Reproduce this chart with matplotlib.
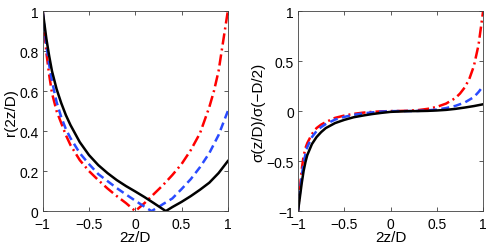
import matplotlib
matplotlib.use("Agg")
import matplotlib.pyplot as plt

plt.rcParams['font.family'] = ['Liberation Sans', 'DejaVu Sans']

# ---- left panel: r(2z/D) ----
x_r_black = [-1.0, -0.98, -0.96, -0.93, -0.9, -0.85, -0.8, -0.75, -0.7, -0.6, -0.5, -0.4, -0.3, -0.2,
             -0.1, 0.0, 0.1, 0.2, 0.33, 0.4, 0.5, 0.6, 0.7, 0.8, 0.9, 1.0]
r_black = [1.0, 0.93, 0.86, 0.775, 0.70, 0.61, 0.54, 0.48, 0.43, 0.345, 0.28, 0.23, 0.19, 0.155,
           0.125, 0.098, 0.07, 0.04, 0.0, 0.02, 0.046, 0.075, 0.107, 0.142, 0.19, 0.25]

x_r_blue = [-1.0, -0.98, -0.96, -0.93, -0.9, -0.85, -0.8, -0.75, -0.7, -0.6, -0.5, -0.4, -0.3, -0.2,
            -0.1, 0.0, 0.1, 0.175, 0.25, 0.3, 0.4, 0.5, 0.6, 0.7, 0.8, 0.9, 1.0]
r_blue = [1.0, 0.91, 0.83, 0.73, 0.65, 0.545, 0.47, 0.41, 0.365, 0.29, 0.235, 0.185, 0.15, 0.115,
          0.083, 0.052, 0.022, 0.0, 0.02, 0.035, 0.063, 0.11, 0.16, 0.22, 0.29, 0.38, 0.5]

x_r_red = [-1.0, -0.98, -0.96, -0.93, -0.9, -0.85, -0.8, -0.75, -0.7, -0.6, -0.5, -0.4, -0.3, -0.2,
           -0.1, 0.0, 0.1, 0.2, 0.3, 0.4, 0.5, 0.6, 0.7, 0.8, 0.85, 0.9, 0.95, 1.0]
r_red = [1.0, 0.89, 0.79, 0.68, 0.59, 0.5, 0.44, 0.38, 0.33, 0.255, 0.2, 0.155, 0.113, 0.075,
         0.04, 0.0, 0.04, 0.085, 0.13, 0.18, 0.235, 0.305, 0.39, 0.52, 0.6, 0.70, 0.85, 1.0]

# ---- right panel: sigma(z/D)/sigma(-D/2) ----
x_s_black = [-1.0, -0.98, -0.96, -0.94, -0.92, -0.9, -0.85, -0.8, -0.75, -0.7, -0.6, -0.5, -0.4,
             -0.3, -0.2, -0.1, 0.0, 0.1, 0.2, 0.3, 0.4, 0.5, 0.6, 0.7, 0.8, 0.9, 1.0]
s_black = [-1.0, -0.86, -0.72, -0.6, -0.51, -0.44, -0.33, -0.26, -0.21, -0.17, -0.12, -0.088, -0.062,
           -0.045, -0.03, -0.018, -0.008, -0.004, -0.001, 0.0, 0.002, 0.006, 0.012, 0.022, 0.035,
           0.05, 0.068]

x_s_blue = [-1.0, -0.98, -0.96, -0.94, -0.92, -0.9, -0.85, -0.8, -0.75, -0.7, -0.6, -0.5, -0.4, -0.3,
            -0.2, -0.1, 0.0, 0.1, 0.2, 0.3, 0.4, 0.5, 0.6, 0.7, 0.8, 0.9, 0.95, 1.0]
s_blue = [-1.0, -0.82, -0.65, -0.52, -0.43, -0.36, -0.26, -0.2, -0.16, -0.13, -0.085, -0.058, -0.038,
          -0.024, -0.013, -0.005, -0.001, 0.0, 0.0, 0.002, 0.007, 0.015, 0.03, 0.052, 0.085, 0.14,
          0.19, 0.25]

x_s_red = [-1.0, -0.98, -0.96, -0.94, -0.92, -0.9, -0.85, -0.8, -0.75, -0.7, -0.6, -0.5, -0.4, -0.3,
           -0.2, -0.1, 0.0, 0.1, 0.2, 0.3, 0.4, 0.5, 0.6, 0.7, 0.75, 0.8, 0.85, 0.9, 0.95, 1.0]
s_red = [-1.0, -0.78, -0.58, -0.45, -0.37, -0.32, -0.23, -0.17, -0.135, -0.11, -0.068, -0.045, -0.028,
         -0.016, -0.008, -0.003, 0.0, 0.001, 0.004, 0.01, 0.022, 0.042, 0.075, 0.13, 0.175, 0.235,
         0.32, 0.45, 0.66, 1.0]

x_ticks = [-1, -0.5, 0, 0.5, 1]
x_tick_labels = ['\u22121', '\u22120.5', '0', '0.5', '1']
r_ticks = [0, 0.2, 0.4, 0.6, 0.8, 1]
r_tick_labels = ['0', '0.2', '0.4', '0.6', '0.8', '1']
s_ticks = [-1, -0.5, 0, 0.5, 1]
s_tick_labels = ['\u22121', '\u22120.5', '0', '0.5', '1']

fig = plt.figure(figsize=(4.91, 2.51), dpi=100)
ax1 = fig.add_axes([0.087, 0.155, 0.377, 0.797])
ax2 = fig.add_axes([0.607, 0.155, 0.377, 0.797])

lw = 1.8
red = '#ff0000'
blue = '#2a4bff'
red_ls = (0, (4.5, 1.6, 0.8, 1.6))
blue_ls = (0, (3.2, 1.8))

ax1.plot(x_r_red, r_red, color=red, lw=lw, linestyle=red_ls)
ax1.plot(x_r_blue, r_blue, color=blue, lw=lw, linestyle=blue_ls)
ax1.plot(x_r_black, r_black, color='black', lw=lw, linestyle='-')

ax2.plot(x_s_red, s_red, color=red, lw=lw, linestyle=red_ls)
ax2.plot(x_s_blue, s_blue, color=blue, lw=lw, linestyle=blue_ls)
ax2.plot(x_s_black, s_black, color='black', lw=lw, linestyle='-')

for ax in (ax1, ax2):
    ax.set_xlim(-1, 1)
    ax.set_xticks(x_ticks)
    ax.set_xticklabels(x_tick_labels)
    ax.tick_params(direction='in', top=True, right=True, length=3, width=0.6,
                   colors='#404040', labelcolor='black')
    ax.tick_params(axis='x', labelsize=10, pad=4.5)
    ax.tick_params(axis='y', labelsize=10, pad=3)
    for s in ax.spines.values():
        s.set_color('#404040')
        s.set_linewidth(0.6)
    ax.set_xlabel('2z/D', fontsize=11, labelpad=-1)

ax1.set_ylim(0, 1)
ax1.set_yticks(r_ticks)
ax1.set_yticklabels(r_tick_labels)
ax1.set_ylabel('r(2z/D)', fontsize=11, labelpad=1)

ax2.set_ylim(-1, 1)
ax2.set_yticks(s_ticks)
ax2.set_yticklabels(s_tick_labels)
ax2.set_ylabel('\u03c3(z/D)/\u03c3(\u2212D/2)', fontsize=11, labelpad=1)

fig.savefig('out.png', dpi=100)
